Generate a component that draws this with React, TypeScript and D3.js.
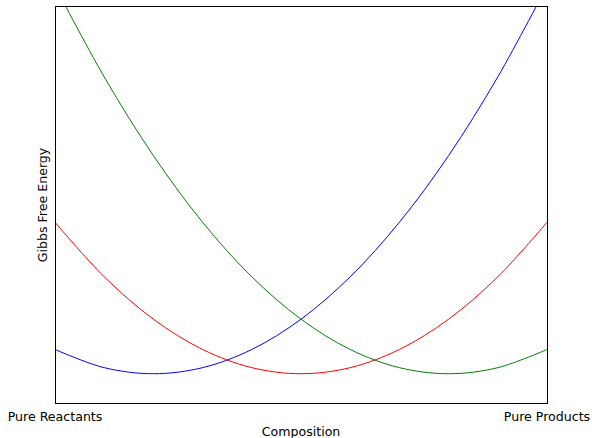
import React, { useEffect, useRef } from "react";
import * as d3 from "d3";

// composition from pure reactants (0) to pure products (1)
const composition = [0, 0.1, 0.2, 0.3, 0.4, 0.5, 0.6, 0.7, 0.8, 0.9, 1];
// free energy curves
const blueG = [0.04, 0.01, 0, 0.01, 0.04, 0.09, 0.16, 0.25, 0.36, 0.49, 0.64];
const redG = [0.25, 0.16, 0.09, 0.04, 0.01, 0, 0.01, 0.04, 0.09, 0.16, 0.25];
const greenG = [0.64, 0.49, 0.36, 0.25, 0.16, 0.09, 0.04, 0.01, 0, 0.01, 0.04];
const seriesColors = ["blue", "red", "green"];
const tickValues = [0, 1];
const tickLabels = ["Pure Reactants", "Pure Products"];

const App = () => {
  const ref = useRef<SVGSVGElement>(null);

  useEffect(() => {
    const W = 592, H = 438;
    const margin = { top: 6, right: 45, bottom: 34, left: 55 };
    const w = W - margin.left - margin.right,
      h = H - margin.top - margin.bottom;

    const svg = d3.select(ref.current);
    svg.selectAll("*").remove();
    svg.attr("width", W).attr("height", H);

    const g = svg.append("g").attr("transform", `translate(${margin.left},${margin.top})`);

    const x = d3.scaleLinear().domain([0, 1]).range([0, w]);
    const y = d3.scaleLinear().domain([-0.05, 0.607]).range([h, 0]);

    svg.append("defs").append("clipPath").attr("id", "plotclip")
      .append("rect").attr("width", w).attr("height", h);

    const line = d3.line<number>()
      .x((d, i) => x(composition[i]))
      .y(d => y(d))
      .curve(d3.curveCatmullRom);

    [blueG, redG, greenG].forEach((s, k) => {
      g.append("path")
        .attr("d", line(s))
        .attr("clip-path", "url(#plotclip)")
        .attr("fill", "none")
        .attr("stroke", seriesColors[k])
        .attr("stroke-width", 1);
    });

    // frame
    g.append("rect")
      .attr("x", 0.5).attr("y", 0.5)
      .attr("width", w).attr("height", h - 1)
      .attr("fill", "none").attr("stroke", "black").attr("stroke-width", 1);

    g.selectAll(".tick_lbl")
      .data(tickValues)
      .join("text")
      .attr("class", "tick_lbl")
      .attr("x", d => x(d))
      .attr("y", h + 17)
      .attr("text-anchor", "middle")
      .style("font-family", "DejaVu Sans")
      .style("font-size", "12.6px")
      .text((d, i) => tickLabels[i]);

    g.append("text")
      .attr("x", w / 2)
      .attr("y", h + 32)
      .attr("text-anchor", "middle")
      .style("font-family", "DejaVu Sans")
      .style("font-size", "12.6px")
      .text("Composition");

    g.append("text")
      .attr("transform", "rotate(-90)")
      .attr("x", -h / 2)
      .attr("y", -8)
      .attr("text-anchor", "middle")
      .style("font-family", "DejaVu Sans")
      .style("font-size", "12.6px")
      .text("Gibbs Free Energy");
  }, []);

  return (
    <svg ref={ref} style={{ position: "absolute", left: 0, top: 0 }}></svg>
  );
};

export default App;
